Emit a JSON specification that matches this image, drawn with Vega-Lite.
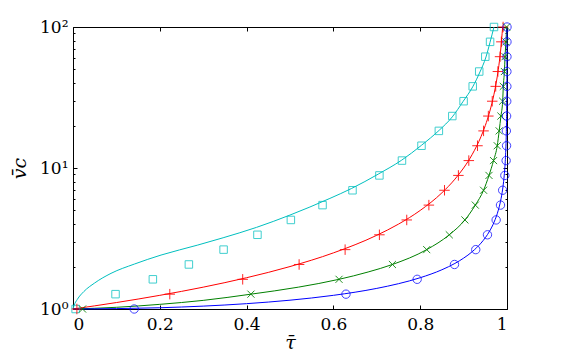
{
  "$schema": "https://vega.github.io/schema/vega-lite/v6.json",
  "width": 434,
  "height": 282,
  "autosize": {"type": "none"},
  "padding": {"left": 73, "top": 27, "right": 54, "bottom": 51},
  "background": "white",
  "config": {
    "view": {"stroke": null},
    "axis": {
      "grid": false,
      "domainColor": "black",
      "domainWidth": 1,
      "tickColor": "black",
      "tickWidth": 1,
      "labelColor": "black",
      "titleColor": "black",
      "labelFont": "DejaVu Serif",
      "labelFontSize": 17,
      "titleFont": "DejaVu Serif",
      "titleFontSize": 19,
      "titleFontWeight": "normal",
      "titleFontStyle": "italic"
    }
  },
  "datasets": {
    "lines": [
      {"s": "c", "t": 0, "v": 1}, {"s": "c", "t": 0.002, "v": 1.05}, {"s": "c", "t": 0.01, "v": 1.17}, {"s": "c", "t": 0.025, "v": 1.33}, {"s": "c", "t": 0.05, "v": 1.53}, {"s": "c", "t": 0.0876, "v": 1.79}, {"s": "c", "t": 0.1416, "v": 2.084}, {"s": "c", "t": 0.2029, "v": 2.413}, {"s": "c", "t": 0.2875, "v": 2.841}, {"s": "c", "t": 0.3459, "v": 3.2}, {"s": "c", "t": 0.4229, "v": 3.793}, {"s": "c", "t": 0.4997, "v": 4.634}, {"s": "c", "t": 0.5919, "v": 6.085}, {"s": "c", "t": 0.6419, "v": 7.16}, {"s": "c", "t": 0.7033, "v": 9.05}, {"s": "c", "t": 0.7572, "v": 11.36}, {"s": "c", "t": 0.8033, "v": 14.52}, {"s": "c", "t": 0.8439, "v": 18.54}, {"s": "c", "t": 0.8739, "v": 23.03}, {"s": "c", "t": 0.8992, "v": 29.76}, {"s": "c", "t": 0.9209, "v": 37.6}, {"s": "c", "t": 0.9377, "v": 48.0}, {"s": "c", "t": 0.9516, "v": 61.3}, {"s": "c", "t": 0.9607, "v": 77.5}, {"s": "c", "t": 0.97, "v": 100},
      {"s": "r", "t": 0, "v": 1}, {"s": "r", "t": 0.1, "v": 1.111}, {"s": "r", "t": 0.2, "v": 1.25}, {"s": "r", "t": 0.3, "v": 1.4286}, {"s": "r", "t": 0.4, "v": 1.6667}, {"s": "r", "t": 0.5, "v": 2}, {"s": "r", "t": 0.6, "v": 2.5}, {"s": "r", "t": 0.7, "v": 3.333}, {"s": "r", "t": 0.75, "v": 4}, {"s": "r", "t": 0.8, "v": 5}, {"s": "r", "t": 0.85, "v": 6.667}, {"s": "r", "t": 0.88, "v": 8.333}, {"s": "r", "t": 0.9, "v": 10}, {"s": "r", "t": 0.92, "v": 12.5}, {"s": "r", "t": 0.94, "v": 16.667}, {"s": "r", "t": 0.95, "v": 20}, {"s": "r", "t": 0.96, "v": 25}, {"s": "r", "t": 0.97, "v": 33.33}, {"s": "r", "t": 0.975, "v": 40}, {"s": "r", "t": 0.98, "v": 50}, {"s": "r", "t": 0.985, "v": 66.67}, {"s": "r", "t": 0.99, "v": 100},
      {"s": "g", "t": 0, "v": 1}, {"s": "g", "t": 0.1, "v": 1.028}, {"s": "g", "t": 0.2, "v": 1.079}, {"s": "g", "t": 0.3, "v": 1.151}, {"s": "g", "t": 0.41, "v": 1.274}, {"s": "g", "t": 0.52, "v": 1.43}, {"s": "g", "t": 0.613, "v": 1.624}, {"s": "g", "t": 0.68, "v": 1.83}, {"s": "g", "t": 0.736, "v": 2.069}, {"s": "g", "t": 0.815, "v": 2.637}, {"s": "g", "t": 0.867, "v": 3.36}, {"s": "g", "t": 0.903, "v": 4.281}, {"s": "g", "t": 0.927, "v": 5.456}, {"s": "g", "t": 0.946, "v": 6.952}, {"s": "g", "t": 0.9585, "v": 8.859}, {"s": "g", "t": 0.969, "v": 11.29}, {"s": "g", "t": 0.9775, "v": 14.38}, {"s": "g", "t": 0.982, "v": 18.33}, {"s": "g", "t": 0.986, "v": 23.36}, {"s": "g", "t": 0.99, "v": 29.76}, {"s": "g", "t": 0.9915, "v": 37.93}, {"s": "g", "t": 0.994, "v": 48.33}, {"s": "g", "t": 0.9955, "v": 61.59}, {"s": "g", "t": 0.9975, "v": 78.48}, {"s": "g", "t": 0.9993, "v": 100},
      {"s": "b", "t": 0, "v": 1}, {"s": "b", "t": 0.2, "v": 1.0206}, {"s": "b", "t": 0.3, "v": 1.0483}, {"s": "b", "t": 0.4, "v": 1.0911}, {"s": "b", "t": 0.5, "v": 1.1547}, {"s": "b", "t": 0.6, "v": 1.25}, {"s": "b", "t": 0.7, "v": 1.4003}, {"s": "b", "t": 0.75, "v": 1.5119}, {"s": "b", "t": 0.8, "v": 1.6667}, {"s": "b", "t": 0.85, "v": 1.8983}, {"s": "b", "t": 0.88, "v": 2.1054}, {"s": "b", "t": 0.9, "v": 2.2942}, {"s": "b", "t": 0.92, "v": 2.5516}, {"s": "b", "t": 0.94, "v": 2.9311}, {"s": "b", "t": 0.95, "v": 3.2026}, {"s": "b", "t": 0.96, "v": 3.5714}, {"s": "b", "t": 0.97, "v": 4.1134}, {"s": "b", "t": 0.98, "v": 5.0252}, {"s": "b", "t": 0.985, "v": 5.7953}, {"s": "b", "t": 0.99, "v": 7.0888}, {"s": "b", "t": 0.993, "v": 8.4705}, {"s": "b", "t": 0.995, "v": 10.0125}, {"s": "b", "t": 0.997, "v": 12.915}, {"s": "b", "t": 0.998, "v": 15.819}, {"s": "b", "t": 0.999, "v": 22.37}, {"s": "b", "t": 0.9995, "v": 31.63}, {"s": "b", "t": 0.9998, "v": 50.0}, {"s": "b", "t": 0.99995, "v": 100}
    ],
    "sq": [
      {"t": 0.006, "v": 1}, {"t": 0.098, "v": 1.2743}, {"t": 0.184, "v": 1.6238}, {"t": 0.267, "v": 2.0691}, {"t": 0.347, "v": 2.6367}, {"t": 0.425, "v": 3.3598}, {"t": 0.502, "v": 4.2813}, {"t": 0.575, "v": 5.4556}, {"t": 0.644, "v": 6.9519}, {"t": 0.706, "v": 8.8587}, {"t": 0.758, "v": 11.288}, {"t": 0.803, "v": 14.384}, {"t": 0.843, "v": 18.33}, {"t": 0.874, "v": 23.357}, {"t": 0.9, "v": 29.764}, {"t": 0.921, "v": 37.927}, {"t": 0.936, "v": 48.329}, {"t": 0.95, "v": 61.585}, {"t": 0.961, "v": 78.476}, {"t": 0.97, "v": 100}
    ],
    "pl": [
      {"t": 0.009, "v": 1}, {"t": 0.223, "v": 1.2743}, {"t": 0.391, "v": 1.6238}, {"t": 0.521, "v": 2.0691}, {"t": 0.627, "v": 2.6367}, {"t": 0.706, "v": 3.3598}, {"t": 0.769, "v": 4.2813}, {"t": 0.82, "v": 5.4556}, {"t": 0.856, "v": 6.9519}, {"t": 0.888, "v": 8.8587}, {"t": 0.912, "v": 11.288}, {"t": 0.932, "v": 14.384}, {"t": 0.946, "v": 18.33}, {"t": 0.957, "v": 23.357}, {"t": 0.966, "v": 29.764}, {"t": 0.974, "v": 37.927}, {"t": 0.979, "v": 48.329}, {"t": 0.984, "v": 61.585}, {"t": 0.987, "v": 78.476}, {"t": 0.991, "v": 100}
    ],
    "xx": [
      {"t": 0.022, "v": 1}, {"t": 0.41, "v": 1.2743}, {"t": 0.613, "v": 1.6238}, {"t": 0.736, "v": 2.0691}, {"t": 0.815, "v": 2.6367}, {"t": 0.867, "v": 3.3598}, {"t": 0.903, "v": 4.2813}, {"t": 0.927, "v": 5.4556}, {"t": 0.946, "v": 6.9519}, {"t": 0.9585, "v": 8.8587}, {"t": 0.969, "v": 11.288}, {"t": 0.9775, "v": 14.384}, {"t": 0.982, "v": 18.33}, {"t": 0.986, "v": 23.357}, {"t": 0.99, "v": 29.764}, {"t": 0.9915, "v": 37.927}, {"t": 0.994, "v": 48.329}, {"t": 0.9955, "v": 61.585}, {"t": 0.9975, "v": 78.476}, {"t": 0.999, "v": 100}
    ],
    "ci": [
      {"t": 0.141, "v": 1}, {"t": 0.629, "v": 1.2743}, {"t": 0.793, "v": 1.6238}, {"t": 0.879, "v": 2.0691}, {"t": 0.928, "v": 2.6367}, {"t": 0.955, "v": 3.3598}, {"t": 0.975, "v": 4.2813}, {"t": 0.985, "v": 5.4556}, {"t": 0.99, "v": 6.9519}, {"t": 0.995, "v": 8.8587}, {"t": 0.998, "v": 11.288}, {"t": 0.999, "v": 14.384}, {"t": 0.9985, "v": 18.33}, {"t": 0.9991, "v": 23.357}, {"t": 0.9994, "v": 29.764}, {"t": 0.9997, "v": 37.927}, {"t": 0.9998, "v": 48.329}, {"t": 0.9999, "v": 61.585}, {"t": 0.9999, "v": 78.476}, {"t": 1.0, "v": 100}
    ]
  },
  "resolve": {"axis": {"x": "independent", "y": "independent"}},
  "layer": [
    {
      "data": {"name": "lines"},
      "mark": {"type": "line", "strokeWidth": 1, "interpolate": "monotone", "clip": false},
      "encoding": {
        "x": {"field": "t", "type": "quantitative", "scale": {"domain": [0, 1], "nice": false, "zero": false},
          "axis": {"orient": "bottom", "values": [0, 0.2, 0.4, 0.6, 0.8, 1], "format": "~g", "tickSize": -4, "labelPadding": 11, "labelFont": "DejaVu Serif", "title": "τ̄", "titlePadding": 1}},
        "y": {"field": "v", "type": "quantitative", "scale": {"type": "log", "domain": [1, 100], "nice": false},
          "axis": {"orient": "left", "values": [1, 10, 100], "tickSize": -4, "labelPadding": 9, "labelFont": "DejaVu Serif", "labelExpr": "datum.value == 1 ? '10⁰' : datum.value == 10 ? '10¹' : '10²'", "title": "v̄c", "titlePadding": 10}},
        "color": {"field": "s", "type": "nominal", "scale": {"domain": ["c", "r", "g", "b"], "range": ["#00bfbf", "#ff0000", "#008000", "#0000ff"]}, "legend": null},
        "order": {"field": "t", "type": "quantitative"}
      }
    },
    {
      "data": {"name": "sq"},
      "mark": {"type": "point", "shape": "square", "size": 56, "filled": false, "color": "#00bfbf", "strokeWidth": 1, "opacity": 0.75, "clip": false},
      "encoding": {
        "x": {"field": "t", "type": "quantitative", "scale": {"domain": [0, 1], "nice": false, "zero": false},
          "axis": {"orient": "top", "values": [0, 0.2, 0.4, 0.6, 0.8, 1], "tickSize": -4, "labels": false, "title": null}},
        "y": {"field": "v", "type": "quantitative", "scale": {"type": "log", "domain": [1, 100], "nice": false},
          "axis": {"orient": "right", "values": [1, 10, 100], "tickSize": -4, "labels": false, "title": null}}
      }
    },
    {
      "data": {"name": "pl"},
      "mark": {"type": "point", "shape": "M-1,0L1,0M0,-1L0,1", "size": 110, "filled": false, "color": "#ff0000", "strokeWidth": 1, "opacity": 0.85, "clip": false},
      "encoding": {
        "x": {"field": "t", "type": "quantitative", "scale": {"domain": [0, 1], "nice": false, "zero": false}, "axis": null},
        "y": {"field": "v", "type": "quantitative", "scale": {"type": "log", "domain": [1, 100], "nice": false},
          "axis": {"orient": "left", "values": [2, 3, 4, 5, 6, 7, 8, 9, 20, 30, 40, 50, 60, 70, 80, 90], "tickSize": -2, "labels": false, "domain": false, "title": null}}
      }
    },
    {
      "data": {"name": "xx"},
      "mark": {"type": "point", "shape": "M-1,-1L1,1M-1,1L1,-1", "size": 50, "filled": false, "color": "#008000", "strokeWidth": 1, "opacity": 0.85, "clip": false},
      "encoding": {
        "x": {"field": "t", "type": "quantitative", "scale": {"domain": [0, 1], "nice": false, "zero": false}, "axis": null},
        "y": {"field": "v", "type": "quantitative", "scale": {"type": "log", "domain": [1, 100], "nice": false},
          "axis": {"orient": "right", "values": [2, 3, 4, 5, 6, 7, 8, 9, 20, 30, 40, 50, 60, 70, 80, 90], "tickSize": -2, "labels": false, "domain": false, "title": null}}
      }
    },
    {
      "data": {"name": "ci"},
      "mark": {"type": "point", "shape": "circle", "size": 70, "filled": false, "color": "#0000ff", "strokeWidth": 1, "opacity": 0.75, "clip": false},
      "encoding": {
        "x": {"field": "t", "type": "quantitative", "scale": {"domain": [0, 1], "nice": false, "zero": false}, "axis": null},
        "y": {"field": "v", "type": "quantitative", "scale": {"type": "log", "domain": [1, 100], "nice": false}, "axis": null}
      }
    }
  ]
}
